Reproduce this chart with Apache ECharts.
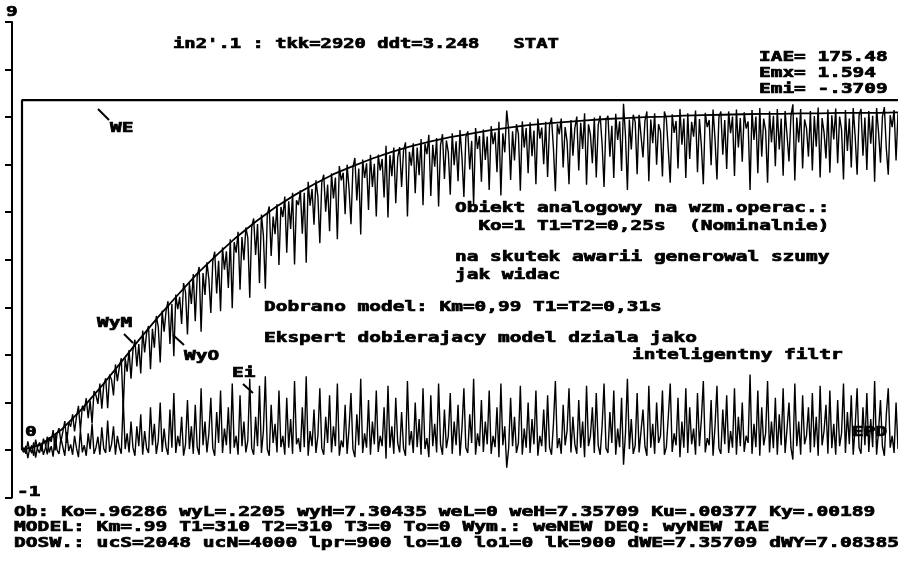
<!DOCTYPE html>
<html><head><meta charset="utf-8">
<script src="https://cdn.jsdelivr.net/npm/echarts@6/dist/echarts.min.js"></script>
<style>html,body{margin:0;padding:0;background:#fff}#c{width:898px;height:561px}</style>
</head><body><div id="c"></div>
<script>
// ---- data ----
const xMax = 900;              // samples (lk=900)
const weH = 7.35709;           // set-point step level
const wyMStep = 20;            // model output, read every 20 samples
const wyM = [0,0.12,0.42,0.83,1.30,1.80,2.31,2.80,3.26,3.71,4.10,4.47,4.80,5.10,5.36,5.59,5.80,5.97,6.13,6.27,6.39,6.49,6.58,6.65,6.72,6.78,6.83,6.87,6.90,6.93,6.96,6.98,7.00,7.01,7.03,7.04,7.05,7.06,7.07,7.07,7.08,7.08,7.09,7.09,7.09,7.10];
const noisyStep = 2;           // object output and error, read every 2 samples
const wyO = [
0,-0.05,0.09,-0.17,0.05,-0.07,0.16,-0.16,0.06,0.16,-0.03,0.24,0.12,-0.09,0.27,
0.17,0.42,-0.01,0.34,0.46,0.17,0.39,0.61,0.15,0.59,0.49,0.75,0.39,0.70,0.93,
0.41,0.93,0.82,1.09,0.67,1.04,0.56,1.24,1.15,0.97,1.40,0.87,1.37,1.51,0.88,
1.59,1.48,1.15,1.80,1.45,1.74,1.93,0.85,1.93,1.65,2.10,1.50,2.10,2.32,1.76,
2.23,1.61,2.51,2.05,2.46,2.61,1.70,2.55,2.15,2.82,2.59,1.84,2.93,2.49,2.92,
3.13,2.23,3.07,1.97,3.27,2.96,3.22,2.65,3.51,3.32,2.43,3.51,3.07,3.70,2.71,
3.65,3.85,2.49,3.72,3.26,3.95,3.59,2.88,3.97,4.17,3.29,3.98,2.92,4.26,3.79,
4.18,3.41,4.43,2.98,4.37,4.15,4.59,3.37,4.48,3.99,4.68,4.46,3.20,4.69,4.87,
4.10,4.75,3.51,4.95,4.51,3.39,4.95,5.12,4.08,4.91,4.54,5.17,3.89,5.11,4.90,
5.33,4.15,5.23,4.65,5.41,3.90,5.25,5.15,5.46,4.55,5.41,3.94,5.64,5.14,5.49,
4.74,5.67,5.33,4.35,5.63,5.79,5.01,5.58,4.60,5.82,5.29,5.73,4.43,5.97,5.67,
5.83,4.96,6.00,5.49,4.75,5.95,6.14,5.25,5.92,4.53,6.11,5.72,6.03,5.05,6.21,
5.53,6.02,4.91,6.21,5.88,6.12,5.31,6.40,4.89,6.20,5.76,6.36,5.19,6.15,6.37,
5.53,6.30,6.47,4.91,6.27,5.98,6.45,5.40,6.36,5.78,6.54,5.15,6.44,6.22,6.63,
5.34,6.42,5.96,6.56,5.12,6.41,6.64,5.70,6.51,6.26,5.37,6.66,5.99,6.49,5.65,
6.73,6.17,5.32,6.58,6.70,5.90,6.50,5.16,6.77,6.33,6.60,5.64,6.74,6.10,6.59,
5.47,6.81,6.43,6.68,5.84,6.90,5.35,6.66,6.26,7.14,6.73,5.68,6.70,6.09,6.85,
6.65,5.45,6.91,6.36,6.77,5.82,6.89,6.18,6.72,5.59,6.97,6.55,6.78,6.01,6.90,
5.74,6.83,6.99,6.34,5.44,6.85,6.64,6.97,5.94,6.79,6.49,5.59,6.94,6.19,6.77,
7.01,5.88,6.88,6.33,7.08,5.58,6.85,6.63,6.03,6.99,5.73,6.83,7.03,6.43,5.53,
6.93,7.03,6.17,6.82,5.72,7.07,6.52,6.91,5.87,7.28,6.62,5.47,6.95,6.32,7.05,
6.90,5.80,7.05,6.60,6.15,6.92,7.12,5.65,6.95,6.45,7.08,6.00,6.85,6.70,5.75,
7.12,6.96,6.32,5.62,7.06,6.67,6.92,5.92,7.17,6.42,6.97,5.72,7.08,6.12,6.90,
6.59,7.14,5.84,6.96,6.39,5.59,7.09,6.79,6.94,5.99,7.16,6.54,5.69,7.00,7.12,
6.21,6.94,5.91,7.12,6.66,7.01,5.76,7.16,6.36,6.98,6.06,7.10,6.76,6.91,5.47,
7.15,6.52,7.01,5.82,7.19,6.17,6.97,6.72,5.62,7.12,6.47,7.03,5.97,7.17,6.32,
6.97,5.77,7.13,6.62,6.07,7.02,7.27,5.67,6.99,6.47,7.17,5.92,6.95,6.77,6.17,
7.13,5.88,7.02,6.38,7.20,5.73,6.98,6.68,6.13,7.16,5.83,7.04,6.53,7.18,6.03,
7.01,6.74,5.69,7.15,6.29,6.97,5.94,7.19,6.59,5.79,7.04,7.17,6.19,6.99,5.89,
7.13,6.44,7.03,5.64,7.19,6.69,6.04,7.01,7.21,6.34,5.79,7.04,6.79,7.15,6.09,
7.08];
const ei = [
0,0.05,-0.08,0.18,-0.03,0.10,-0.12,0.22,0.02,-0.06,0.15,-0.10,0.04,0.28,-0.05,
0.08,-0.14,0.32,0,-0.08,0.25,0.06,-0.12,0.38,-0.02,0.12,-0.10,0.30,0.04,-0.15,
0.42,-0.05,0.10,-0.12,0.35,0.02,0.55,-0.08,0.05,0.28,-0.10,0.48,0.03,-0.06,0.62,
-0.04,0.12,0.50,-0.10,0.30,0.06,-0.08,1.05,0.02,0.35,-0.05,0.60,0.05,-0.12,0.50,
0.08,0.75,-0.10,0.40,0.04,-0.06,0.90,0.10,0.55,-0.08,0.20,1.00,-0.04,0.45,0.06,
-0.10,0.85,0.05,1.20,-0.06,0.30,0.08,0.70,-0.12,0.12,1.05,0.02,0.50,-0.08,0.95,
0.06,-0.10,1.30,0.10,0.60,-0.05,0.35,1.10,0.04,-0.12,0.80,0.15,1.25,-0.06,0.45,
0.10,0.90,-0.08,1.40,0.05,0.30,-0.10,1.15,0.08,0.60,-0.05,0.20,1.50,0.04,-0.10,
0.70,0.08,1.35,-0.06,0.40,1.55,0.02,-0.12,0.95,0.15,0.55,-0.05,1.25,0.06,0.30,
-0.10,1.10,0.05,0.65,-0.08,1.45,0.12,0.25,-0.04,0.90,0.06,1.55,-0.12,0.40,0.08,
0.85,-0.06,0.30,1.30,0.04,-0.10,0.70,0.15,1.15,-0.05,0.50,0.08,1.40,-0.12,0.20,
0.06,0.95,-0.08,0.45,1.20,0.02,-0.15,0.75,0.10,1.50,-0.06,0.35,0.05,1.05,-0.10,
0.60,0.12,1.25,-0.04,0.30,0.08,0.90,-0.18,1.35,0.05,0.50,-0.08,1.10,0.15,-0.05,
0.80,0.04,-0.12,1.45,0.10,0.40,-0.06,1.00,0.06,0.65,-0.10,1.30,0.02,0.25,-0.15,
1.15,0.08,0.55,-0.05,1.40,0.12,-0.10,0.85,0.04,0.30,1.20,-0.08,0.60,0.10,0.95,
-0.12,0.45,1.30,0.05,-0.06,0.75,0.15,1.50,-0.10,0.35,0.08,1.05,-0.04,0.60,0.12,
1.25,-0.08,0.30,0.06,0.90,-0.15,1.40,0.10,0.50,-0.37,0.04,1.10,0.08,0.70,-0.06,
0.15,1.35,-0.10,0.45,0.05,1.00,-0.06,0.65,0.12,1.25,-0.12,0.30,0.08,0.85,-0.04,
1.15,0.06,-0.10,0.55,1.45,0.04,0.25,-0.08,0.95,0.10,0.40,1.30,-0.05,0.70,0.12,
-0.08,1.05,0.05,0.60,-0.15,1.35,0.08,0.30,0.90,-0.06,1.20,0.10,-0.10,0.50,1.40,
0.04,-0.06,0.80,0.15,1.25,-0.10,0.45,0.06,1.10,-0.31,0.35,1.50,0.02,0.65,-0.08,
0.10,1.20,-0.05,0.40,0.85,0.08,-0.12,1.35,0.05,0.55,-0.08,1.00,0.15,0.30,1.25,
-0.10,0.06,0.70,1.40,-0.04,0.35,0.10,1.10,-0.15,0.60,0.05,1.30,-0.06,0.90,0.12,
0.45,-0.10,1.20,0.08,0.65,1.45,-0.05,0.25,0.10,1.05,-0.12,0.50,1.35,0.04,-0.08,
0.85,0.12,1.15,-0.06,0.40,0.05,1.30,-0.10,0.70,0.08,1.00,-0.04,0.30,0.15,1.59,
-0.08,0.55,0.06,1.25,-0.12,0.90,0.10,0.35,1.45,-0.05,0.60,0.04,1.10,-0.10,0.75,
0.10,1.30,-0.06,0.45,1.00,0.05,-0.20,1.40,0.08,0.60,-0.10,1.15,0.12,0.30,0.90,
-0.05,1.20,0.06,0.70,-0.12,1.35,0.10,0.40,0.95,-0.08,1.25,0.04,0.55,-0.10,1.05,
0.08,0.35,1.40,-0.06,0.80,0.12,1.15,-0.10,0.50,1.30,0.05,-0.08,0.90,0.10,1.20,
-0.04,0.65,0.06,1.45,-0.10,0.40,1.05,0.08,-0.12,0.75,1.30,0.05,0.30,-0.06,1.00,
0.02];
const yMin = -1, yMax = 9, yInterval = 1;
const titleText = "in2'.1 : tkk=2920 ddt=3.248   STAT";
const statLines = ["IAE= 175.48", "Emx= 1.594", "Emi= -.3709"];
const infoLines = ["Obiekt analogowy na wzm.operac.:", "  Ko=1 T1=T2=0,25s  (Nominalnie)", "na skutek awarii generowal szumy", "jak widac"];
const modelLines = ["Dobrano model: Km=0,99 T1=T2=0,31s", "Ekspert dobierajacy model dziala jako", "inteligentny filtr"];
const bottomLines = [
 "Ob: Ko=.96286 wyL=.2205 wyH=7.30435 weL=0 weH=7.35709 Ku=.00377 Ky=.00189",
 "MODEL: Km=.99 T1=310 T2=310 T3=0 To=0 Wym.: weNEW DEQ: wyNEW IAE",
 "DOSW.: ucS=2048 ucN=4000 lpr=900 lo=10 lo1=0 lk=900 dWE=7.35709 dWY=7.08385"];

// ---- drawing ----
const FONT = 'bold 14px "DejaVu Sans Mono"';
const cv = document.createElement('canvas').getContext('2d');
cv.font = FONT;
const CW = cv.measureText('M').width;
function T(str, x, y, adv) {
  return {type:'text', x:x, y:y, scaleX: adv / CW, z: 10,
    style:{text:str, font:FONT, fill:'#000', stroke:'#000', lineWidth:0.7, align:'left', verticalAlign:'middle'}};
}
function L(x1,y1,x2,y2){
  return {type:'line', shape:{x1,y1,x2,y2}, style:{stroke:'#000', lineWidth:2}, z:10};
}
const graphics = [];
graphics.push(T('9', 6, 12, 11.7));
graphics.push(T('-1', 17, 492, 11.7));
graphics.push(T(titleText, 173, 44, 11.35));
statLines.forEach((s,i)=>graphics.push(T(s, 759, 57 + i*16.3, 11.7)));
[208, 226, 257, 275].forEach((y,i)=>graphics.push(T(infoLines[i], 455, y, 11.7)));
graphics.push(T(modelLines[0], 264, 307, 11.7));
graphics.push(T(modelLines[1], 264, 338, 11.7));
graphics.push(T(modelLines[2], 632, 355, 11.7));
bottomLines.forEach((s,i)=>graphics.push(T(s, 14, 512 + i*15.5, 11.8)));
graphics.push(T('WE', 110, 128, 11.7));   graphics.push(L(98,109,109,120));
graphics.push(T('WyM', 97, 323, 11.7));   graphics.push(L(124,334,133,343));
graphics.push(T('WyO', 184, 356, 11.7));  graphics.push(L(173,335,184,345));
graphics.push(T('Ei', 232, 373, 11.7));   graphics.push(L(243,384,253,393));
graphics.push(T('0', 25, 432, 11.7));
graphics.push(T('EPD', 852, 432, 11.7));

const lineBase = {type:'line', showSymbol:false, symbol:'none', animation:false, silent:true, sampling:null};
const chart = echarts.init(document.getElementById('c'), null, {renderer:'canvas'});
chart.setOption({
  backgroundColor:'#fff',
  animation:false,
  grid:{left:22, right:0, top:22, bottom:63.4, containLabel:false, outerBoundsMode:'none'},
  xAxis:{type:'value', min:0, max:xMax, show:false},
  yAxis:{type:'value', min:yMin, max:yMax, interval:yInterval, position:'left', offset:10,
    axisLine:{show:true, onZero:false, lineStyle:{color:'#000', width:2}},
    axisTick:{show:true, inside:false, length:7, lineStyle:{color:'#000', width:2}},
    axisLabel:{show:false}, splitLine:{show:false}},
  series:[
    Object.assign({}, lineBase, {name:'Ei', data: ei.map((v,i)=>[i*noisyStep, v]), lineStyle:{color:'#000', width:1.4}}),
    Object.assign({}, lineBase, {name:'WyO', data: wyO.map((v,i)=>[i*noisyStep, v]), lineStyle:{color:'#000', width:1.4}}),
    Object.assign({}, lineBase, {name:'WyM', data: wyM.map((v,i)=>[i*wyMStep, v]), lineStyle:{color:'#000', width:1.8}}),
    Object.assign({}, lineBase, {name:'WE', data: [[0,0],[0,weH],[xMax,weH]], lineStyle:{color:'#000', width:2.2}})
  ],
  graphic: graphics
});
</script></body></html>
